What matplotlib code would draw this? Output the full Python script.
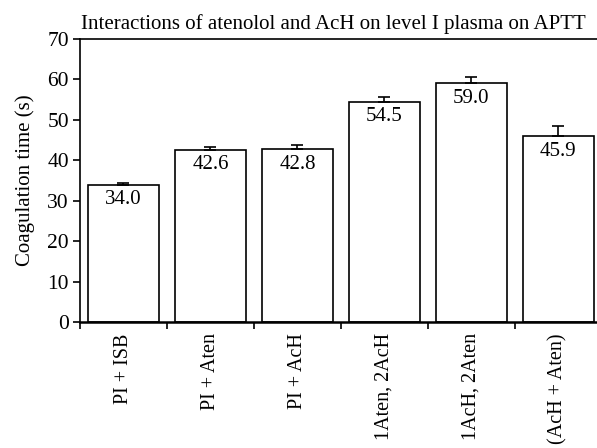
import matplotlib
matplotlib.use("Agg")
import matplotlib.pyplot as plt
import numpy as np

# Daten
labels = ["PI + ISB", "PI + Aten", "PI + AcH", "1Aten, 2AcH", "1AcH, 2Aten", "(AcH + Aten)"]
werte = [34.0, 42.6, 42.8, 54.5, 59.0, 45.9]
fehler = [0.4, 0.8, 1.1, 1.1, 1.6, 2.6]

plt.rcParams['font.family'] = ['Liberation Serif', 'DejaVu Serif']

fig = plt.figure(figsize=(5.97, 4.48), dpi=100)
ax = fig.add_axes([0.134, 0.281, 0.874, 0.632])

x = np.arange(len(werte))
ax.bar(x, werte, width=0.82, color="white", edgecolor="black", linewidth=1.2,
       yerr=[np.zeros(len(fehler)), fehler], error_kw=dict(ecolor="black", elinewidth=1.2, capsize=4, capthick=1.2))

# Werte in die Balken schreiben
for xi, w in zip(x, werte):
    ax.annotate("{:.1f}".format(w), (xi, w), xytext=(0, -4), textcoords="offset points",
                ha="center", va="top", fontsize=15)

ax.set_xlim(-0.5, 5.5)
ax.set_ylim(0, 70)
ax.set_yticks(range(0, 71, 10))
ax.set_xticks(x)
ax.set_xticklabels(labels, rotation=90, fontsize=14.5)
ax.set_xticks(np.arange(-0.5, 6, 1), minor=True)
ax.tick_params(axis="x", which="major", length=0, pad=8)
ax.tick_params(axis="x", which="minor", length=5, width=1.2, direction="out")
ax.tick_params(axis="y", length=5, width=1.2, labelsize=15.5, pad=3)

for s in ax.spines.values():
    s.set_linewidth(1.2)
ax.spines["bottom"].set_linewidth(1.8)

ax.set_ylabel("Coagulation time (s)", fontsize=15, labelpad=9)
ax.set_title("Interactions of atenolol and AcH on level I plasma on APTT", fontsize=15, x=0.485, pad=7)

plt.savefig("out.png", dpi=100)
